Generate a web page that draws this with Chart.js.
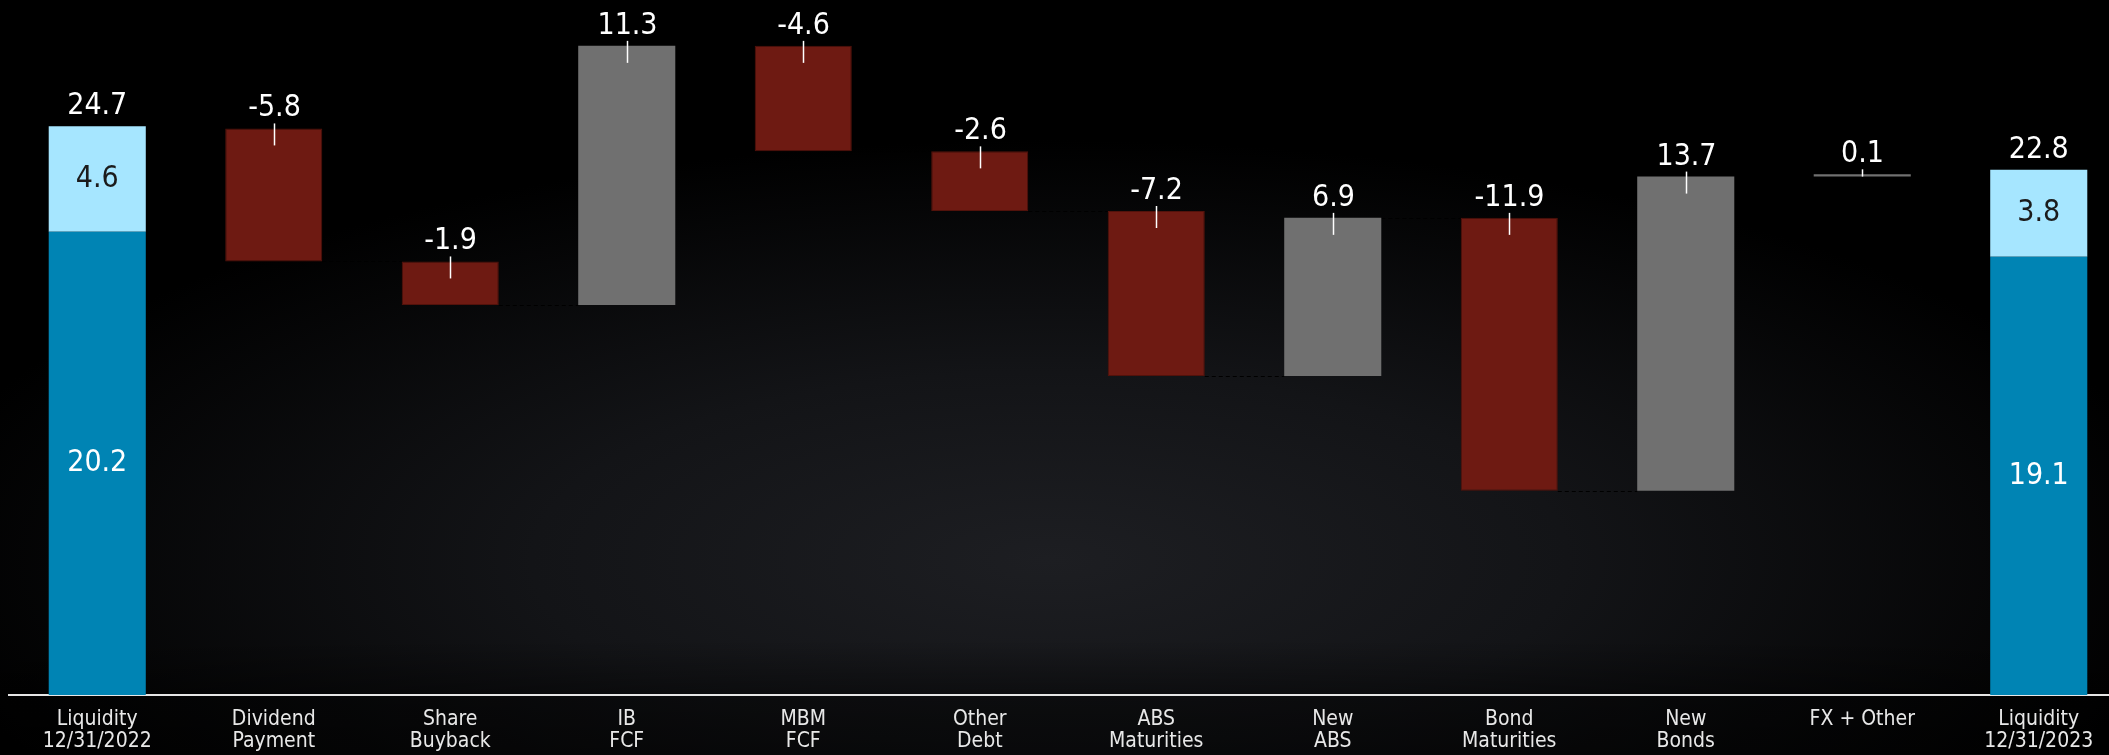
<!DOCTYPE html>
<html>
<head>
<meta charset="utf-8">
<script src="https://cdn.jsdelivr.net/npm/chart.js@4.4.1/dist/chart.umd.min.js"></script>
<style>
  html, body { margin: 0; padding: 0; overflow: hidden; }
  body {
    width: 2109px;
    height: 755px;
    background:
      linear-gradient(to bottom, rgba(0,0,0,0) 0, rgba(0,0,0,0) 640px, rgba(0,0,0,0.45) 700px, rgba(0,0,0,0.55) 755px),
      radial-gradient(ellipse 1150px 420px at 1050px 560px, #1d1e22 0%, #131417 45%, #000 100%);
  }
  #wrap { position: relative; width: 2127px; height: 767px; }
</style>
</head>
<body>
<div id="wrap"><canvas id="waterfall" width="2127" height="767"></canvas></div>
<script>
const categories = [
  ['Liquidity', '12/31/2022'],
  ['Dividend', 'Payment'],
  ['Share', 'Buyback'],
  ['IB', 'FCF'],
  ['MBM', 'FCF'],
  ['Other', 'Debt'],
  ['ABS', 'Maturities'],
  ['New', 'ABS'],
  ['Bond', 'Maturities'],
  ['New', 'Bonds'],
  'FX + Other',
  ['Liquidity', '12/31/2023']
];

// opening / closing liquidity split: [cash, other]
const openingLiquidity = [20.2, 4.6];
const closingLiquidity = [19.1, 3.8];
const liquidityTotals = [24.7, 22.8];

// movements between the two dates
const movements = [-5.8, -1.9, 11.3, -4.6, -2.6, -7.2, 6.9, -11.9, 13.7, 0.1];

const FONT = "'Liberation Sans Narrow', 'DejaVu Sans Condensed', 'Noto Sans', sans-serif";
const last = categories.length - 1;

// running totals -> floating [from, to] ranges
let running = liquidityTotals[0];
const ranges = movements.map(v => {
  const r = [running, +(running + v).toFixed(1)];
  running += v;
  return r;
});

const blank = () => new Array(categories.length).fill(null);

const cashData = blank();
cashData[0] = [0, openingLiquidity[0]];
cashData[last] = [0, closingLiquidity[0]];

const otherData = blank();
otherData[0] = [openingLiquidity[0], openingLiquidity[0] + openingLiquidity[1]];
otherData[last] = [closingLiquidity[0], closingLiquidity[0] + closingLiquidity[1]];

const decreaseData = blank();
const increaseData = blank();
movements.forEach((v, i) => {
  if (v < 0) decreaseData[i + 1] = ranges[i];
  else increaseData[i + 1] = ranges[i];
});

// value labels, tick marks and dashed connectors
const annotate = {
  id: 'annotate',
  beforeDatasetsDraw(chart) {
    const { ctx, scales: { x, y } } = chart;
    const w = chart.getDatasetMeta(0).data[0].width;
    const levels = [liquidityTotals[0], ...ranges.map(r => r[1])];
    ctx.save();
    ctx.strokeStyle = '#000';
    ctx.lineWidth = 1;
    ctx.setLineDash([4, 3]);
    levels.forEach((lv, i) => {
      const py = Math.round(y.getPixelForValue(lv)) + 0.5;
      ctx.beginPath();
      ctx.moveTo(x.getPixelForValue(i) + w / 2, py);
      ctx.lineTo(x.getPixelForValue(i + 1) - w / 2, py);
      ctx.stroke();
    });
    ctx.restore();
  },
  afterDatasetsDraw(chart) {
    const { ctx, scales: { x, y } } = chart;
    ctx.save();
    ctx.textAlign = 'center';
    ctx.font = `30px ${FONT}`;

    // opening and closing totals with their split
    [[0, openingLiquidity, liquidityTotals[0]], [last, closingLiquidity, liquidityTotals[1]]].forEach(([i, parts, total]) => {
      const cx = x.getPixelForValue(i);
      const top = y.getPixelForValue(parts[0] + parts[1]);
      ctx.fillStyle = '#ffffff';
      ctx.textBaseline = 'alphabetic';
      ctx.fillText(total.toFixed(1), cx, top - 12);
      ctx.textBaseline = 'middle';
      ctx.fillText(parts[0].toFixed(1), cx, (y.getPixelForValue(0) + y.getPixelForValue(parts[0])) / 2);
      ctx.fillStyle = '#1b1b1b';
      ctx.fillText(parts[1].toFixed(1), cx, (y.getPixelForValue(parts[0]) + top) / 2);
    });

    // movement labels with a short marker into the bar
    movements.forEach((v, k) => {
      const cx = Math.round(x.getPixelForValue(k + 1)) + 0.5;
      const hi = y.getPixelForValue(Math.max(...ranges[k]));
      const lo = y.getPixelForValue(Math.min(...ranges[k]));
      ctx.strokeStyle = '#ffffff';
      ctx.lineWidth = 1.5;
      ctx.beginPath();
      ctx.moveTo(cx, hi - 5);
      ctx.lineTo(cx, Math.min(hi + 17, lo));
      ctx.stroke();
      ctx.fillStyle = '#ffffff';
      ctx.textBaseline = 'alphabetic';
      ctx.fillText(v.toFixed(1), cx, hi - 12);
    });
    ctx.restore();
  }
};

const barStyle = {
  grouped: false,
  barPercentage: 0.55,
  categoryPercentage: 1
};

new Chart(document.getElementById('waterfall'), {
  type: 'bar',
  data: {
    labels: categories,
    datasets: [
      { label: 'Cash', data: cashData, backgroundColor: '#0084b4', ...barStyle },
      { label: 'Other liquidity', data: otherData, backgroundColor: '#a6e6ff', ...barStyle },
      { label: 'Decrease', data: decreaseData, backgroundColor: '#6e1a12', borderColor: '#52120b', borderWidth: 1, borderSkipped: false, ...barStyle },
      { label: 'Increase', data: increaseData, backgroundColor: '#707070', ...barStyle }
    ]
  },
  options: {
    responsive: false,
    animation: false,
    devicePixelRatio: 1,
    layout: { padding: { left: 9, top: 0, right: 0, bottom: 0 } },
    plugins: {
      legend: { display: false },
      tooltip: { enabled: false }
    },
    scales: {
      x: {
        offset: true,
        grid: { display: false, drawTicks: false },
        border: { display: true, color: '#e6e6e6', width: 2 },
        ticks: {
          color: '#e8e8e8',
          padding: 14,
          maxRotation: 0,
          autoSkip: false,
          font: { family: FONT, size: 21, lineHeight: 1.05 }
        }
      },
      y: {
        display: false,
        min: 0,
        max: 30.3
      }
    }
  },
  plugins: [annotate]
});
</script>
</body>
</html>
